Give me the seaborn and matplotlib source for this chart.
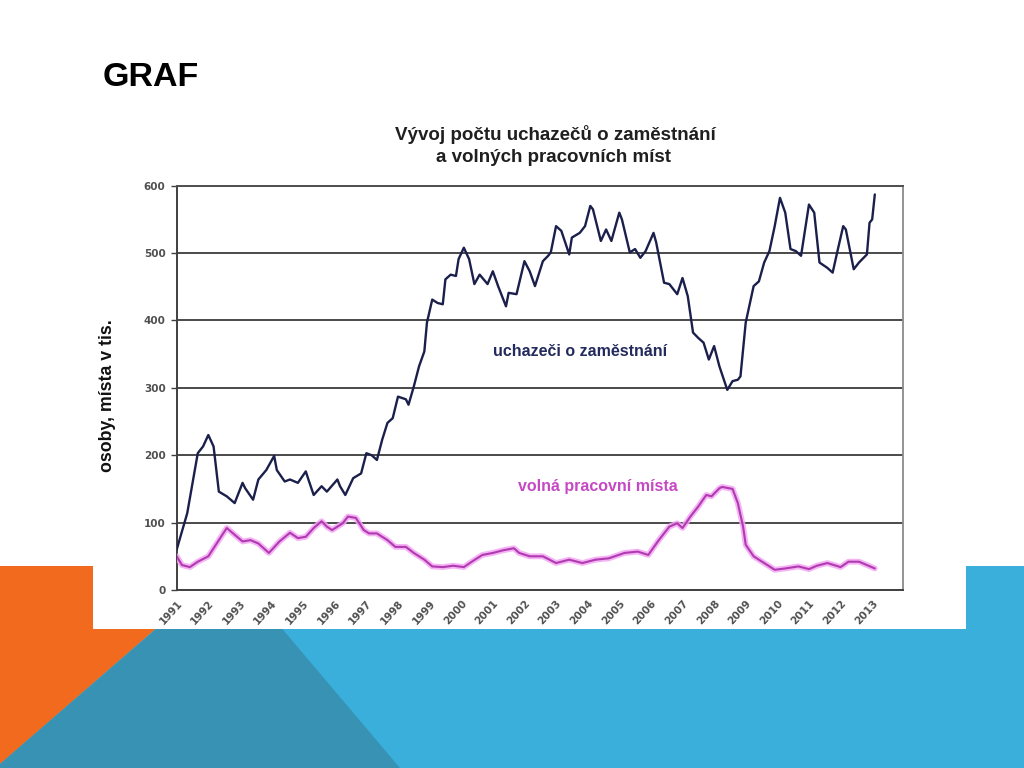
import matplotlib
matplotlib.use("Agg")
import matplotlib.pyplot as plt
import seaborn as sns
import pandas as pd
from matplotlib.patches import Polygon

# ---------------- data (months since January 1991, thousands) ----------------
month_unemp = [0, 4, 8, 10, 12, 14, 16, 19, 22, 25, 26, 29, 31, 34, 37, 38, 41, 43, 46, 49,
               50, 52, 55, 57, 61, 62, 64, 67, 70, 72, 74, 76, 78, 80, 82, 84, 87, 88, 90, 92,
               94, 95, 97, 99, 101, 102, 104, 106, 107, 109, 111, 113, 115, 118, 120, 122, 125,
               126, 129, 132, 134, 136, 139, 141, 142, 144, 146, 149, 150, 153, 155, 157, 158,
               161, 163, 165, 168, 169, 172, 174, 176, 178, 181, 182, 185, 187, 190, 192, 194,
               196, 198, 200, 202, 204, 206, 209, 211, 213, 214, 216, 219, 221, 223, 225, 227,
               229, 231, 233, 235, 237, 240, 242, 244, 247, 249, 251, 253, 254, 257, 259, 262,
               263, 264, 265]
unemployed = [60, 114, 203, 213, 230, 213, 146, 139, 129, 159, 151, 134, 164, 178, 199, 178, 161, 164, 159, 176,
              164, 141, 154, 146, 164, 154, 141, 166, 173, 203, 200, 193, 223, 248, 255, 287, 283, 275, 302, 332,
              354, 397, 431, 426, 424, 461, 468, 466, 491, 508, 491, 454, 468, 454, 473, 451, 421,
              441, 439, 488, 473, 451, 488, 496, 501, 540, 533, 498, 523, 530, 540, 570, 565,
              518, 535, 518, 560, 550, 501, 506, 493, 503, 530, 516, 456, 454, 439, 463, 436,
              382, 374, 367, 342, 362, 332, 297, 310, 312, 317, 397, 451, 458, 486, 503, 540,
              582, 560, 506, 503, 496, 572, 560, 486, 478, 471, 506, 540, 535, 476, 486, 498,
              545, 550, 587]

month_vac = [0, 2, 5, 8, 12, 16, 19, 22, 25, 28, 31, 35, 39, 43, 46, 49, 52, 55, 57, 59, 63, 65,
             68, 71, 73, 76, 80, 83, 87, 90, 94, 97, 101, 105, 109, 112, 116, 120, 124, 128, 130,
             134, 139, 144, 149, 154, 159, 164, 170, 175, 179, 183, 187, 190, 192, 195, 198, 201,
             203, 206, 207, 211, 213, 215, 216, 219, 223, 227, 231, 236, 240, 243, 247, 252, 255,
             259, 262, 265]
vacancies = [50, 37, 34, 42, 50, 74, 92, 82, 72, 74, 69, 55, 72, 85, 77, 79, 92, 102, 94, 89, 99, 109,
             107, 89, 84, 84, 74, 64, 64, 55, 45, 35, 34, 36, 34, 42, 52, 55, 59, 62, 55,
             50, 50, 40, 45, 40, 45, 47, 55, 57, 52, 74, 94, 99, 92, 109, 124, 141,
             139, 151, 153, 150, 129, 94, 67, 50, 40, 30, 32, 35, 31, 36, 40, 34, 42,
             42, 37, 32]

year_labels = ["1991", "1992", "1993", "1994", "1995", "1996", "1997", "1998", "1999", "2000",
               "2001", "2002", "2003", "2004", "2005", "2006", "2007", "2008", "2009", "2010",
               "2011", "2012", "2013"]
y_ticks = [0, 100, 200, 300, 400, 500, 600]

title_lines = ["Vývoj počtu uchazečů o zaměstnání", "a volných pracovních míst"]
label_unemp = "uchazeči o zaměstnání"
label_vac = "volná pracovní místa"
y_label = "osoby, místa v tis."
slide_title = "GRAF"

df_u = pd.DataFrame({"month": month_unemp, "value": unemployed})
df_v = pd.DataFrame({"month": month_vac, "value": vacancies})

# ---------------- style ----------------
sns.set_theme(style="white")
plt.rcParams["font.family"] = ["Liberation Sans", "DejaVu Sans"]

W, H = 1024, 768
fig = plt.figure(figsize=(W / 100, H / 100), dpi=100, facecolor="white")


def fx(x):
    return x / W


def fy(y):
    return 1 - y / H


def poly(points, color, z):
    p = Polygon([(fx(x), fy(y)) for x, y in points], closed=True, transform=fig.transFigure,
                facecolor=color, edgecolor="none", zorder=z)
    fig.add_artist(p)


# decorative slide shapes
poly([(0, 566), (1024, 566), (1024, 768), (0, 768)], "#3aafdc", -10)
poly([(0, 566), (228, 566), (0, 764)], "#f26a1e", -9)
poly([(229, 566), (400, 768), (0, 768), (0, 764)], "#3892b4", -8)
poly([(93, 108), (966, 108), (966, 629), (93, 629)], "white", -7)

# slide title
fig.text(fx(103), fy(86), slide_title, ha="left", va="baseline", fontsize=24.5,
         fontweight="bold", color="black")

# chart title
fig.text(fx(555), fy(134), title_lines[0], ha="center", va="center", fontsize=13.5,
         fontweight="bold", color="#1f1f1f")
fig.text(fx(554), fy(157), title_lines[1], ha="center", va="center", fontsize=13.5,
         fontweight="bold", color="#1f1f1f")

# y label
fig.text(fx(108), fy(396), y_label, rotation=90, ha="center", va="center", fontsize=12.8,
         fontweight="bold", color="#111111")

# ---------------- axes ----------------
left, right, top, bottom = 176.7, 903, 185.7, 590
ax = fig.add_axes([fx(left), fy(bottom), (right - left) / W, (bottom - top) / H])
ax.set_facecolor("white")
ax.set_zorder(5)

sns.lineplot(data=df_u, x="month", y="value", ax=ax, color="#1b1f4b", linewidth=1.7,
             estimator=None, zorder=4)
sns.lineplot(data=df_v, x="month", y="value", ax=ax, color="#f4a6f4", linewidth=4.2,
             estimator=None, alpha=0.85, zorder=3)
sns.lineplot(data=df_v, x="month", y="value", ax=ax, color="#b03ab0", linewidth=1.5,
             estimator=None, zorder=4)

ax.set_xlim(0, 275.7)
ax.set_ylim(0, 600)
ax.set_xlabel("")
ax.set_ylabel("")

ax.set_yticks(y_ticks)
ax.set_yticklabels([str(t) for t in y_ticks])
ax.set_xticks([12 * i for i in range(len(year_labels))])
ax.set_xticklabels(year_labels)

ax.yaxis.grid(True, color="#4a4a4a", linewidth=1.4)
ax.xaxis.grid(False)
ax.set_axisbelow(True)

for lbl in ax.get_yticklabels():
    lbl.set_family(["DejaVu Sans"])
for lbl in ax.get_xticklabels():
    lbl.set_family(["DejaVu Sans"])
    lbl.set_rotation(48)
    lbl.set_ha("right")
    lbl.set_va("top")
    lbl.set_rotation_mode("anchor")

ax.tick_params(axis="y", which="both", left=True, length=4, width=1, color="#404040",
               pad=4, labelsize=7.5, labelcolor="#505050")
ax.tick_params(axis="x", which="both", bottom=False, length=0, pad=6, labelsize=7.5,
               labelcolor="#505050")
for lbl in ax.get_yticklabels() + ax.get_xticklabels():
    lbl.set_fontweight("bold")

for side, col, lw in [("left", "#404040", 1.4), ("bottom", "#404040", 1.4),
                      ("right", "#8a8a8a", 1.3), ("top", "#505050", 1.4)]:
    ax.spines[side].set_visible(True)
    ax.spines[side].set_color(col)
    ax.spines[side].set_linewidth(lw)

# series labels inside the chart
ax.text(153, 354, label_unemp, ha="center", va="center", fontsize=11.5, fontweight="bold",
        color="#232a5c", zorder=6)
ax.text(160, 153, label_vac, ha="center", va="center", fontsize=11.5, fontweight="bold",
        color="#c548c5", zorder=6)

fig.savefig("out.png", dpi=100, facecolor="white")
